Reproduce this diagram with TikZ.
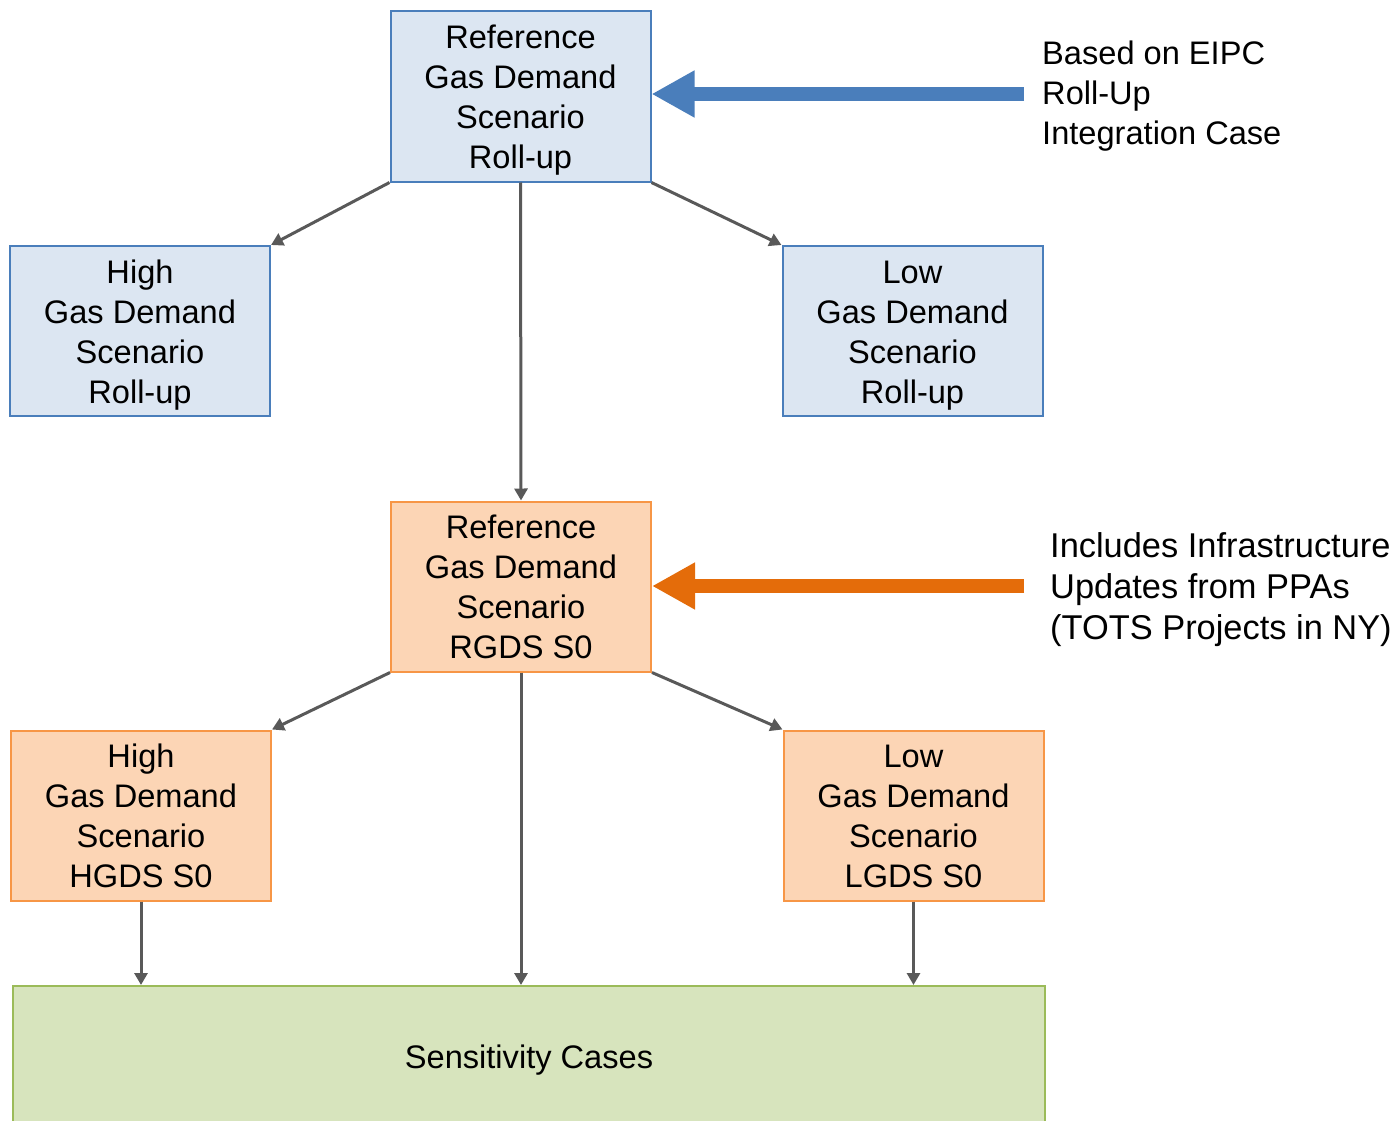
\documentclass[tikz,border=0pt]{standalone}
\usepackage{fontspec}
\setmainfont{Liberation Sans}
\usetikzlibrary{arrows.meta}

\definecolor{blueFill}{HTML}{DCE6F2}
\definecolor{blueLine}{HTML}{4A7EBB}
\definecolor{orangeFill}{HTML}{FCD5B5}
\definecolor{orangeLine}{HTML}{F79646}
\definecolor{greenFill}{HTML}{D7E4BD}
\definecolor{greenLine}{HTML}{9BBB59}
\definecolor{blueArrow}{HTML}{4A7EBB}
\definecolor{orangeArrow}{HTML}{E46C0A}
\definecolor{linkGray}{HTML}{595959}

% centred stack of lines, drawn a little below the middle of its box
% (the box keeps its natural extent, so only the ink moves)
\newcommand{\boxtext}[1]{\raisebox{-4pt}[\height][\depth]{\begin{tabular}{@{}c@{}}#1\end{tabular}}}

\tikzset{
  box/.style={rectangle, line width=2pt, inner sep=0pt,
    minimum width=260pt, minimum height=170pt,
    font=\fontsize{32.6}{40}\selectfont},
  bluebox/.style={box, draw=blueLine, fill=blueFill},
  orangebox/.style={box, draw=orangeLine, fill=orangeFill},
  greenbox/.style={box, draw=greenLine, fill=greenFill},
  link/.style={draw=linkGray, line width=3pt,
    -{Triangle[length=12pt,width=13pt]}},
  bigarrow/.style={line width=14pt,
    -{Triangle[length=43pt,width=44pt]}},
  note/.style={anchor=west, align=left, inner sep=0pt,
    font=\fontsize{32.6}{40}\selectfont},
  bignote/.style={note, font=\fontsize{34.4}{41}\selectfont}
}

\begin{document}
\begin{tikzpicture}[x=1pt,y=-1pt]
  \useasboundingbox (0,0) rectangle (1397,1121);
  \clip (0,0) rectangle (1397,1121);

  % Roll-up tier
  \node[bluebox] (refRoll) at (520.5,96.5) {\boxtext{Reference\\Gas Demand\\Scenario\\Roll-up}};
  \node[bluebox] (highRoll) at (140,331) {\boxtext{High\\Gas Demand\\Scenario\\Roll-up}};
  \node[bluebox] (lowRoll) at (912.5,331) {\boxtext{Low\\Gas Demand\\Scenario\\Roll-up}};

  % S0 tier
  \node[orangebox] (refS0) at (521,586.5) {\boxtext{Reference\\Gas Demand\\Scenario\\RGDS S0}};
  \node[orangebox] (highS0) at (141,815.5) {\boxtext{High\\Gas Demand\\Scenario\\HGDS S0}};
  \node[orangebox] (lowS0) at (913.5,815.5) {\boxtext{Low\\Gas Demand\\Scenario\\LGDS S0}};

  % Sensitivity cases (runs past the lower edge)
  \node[greenbox, minimum width=1032pt, minimum height=140pt] (sens) at (529,1056) {\boxtext{Sensitivity Cases}};

  % Connectors
  \draw[link] (refRoll.south west) -- (highRoll.north east);
  \draw[link] (refRoll.south) -- (refS0.north);
  \draw[link] (refRoll.south east) -- (lowRoll.north west);
  \draw[link] (refS0.south west) -- (highS0.north east);
  \draw[link] (refS0.south) -- (refS0.south |- sens.north);
  \draw[link] (refS0.south east) -- (lowS0.north west);
  \draw[link] (highS0.south) -- (highS0.south |- sens.north);
  \draw[link] (lowS0.south) -- (lowS0.south |- sens.north);

  % Annotations with block arrows
  \coordinate (blueTail) at (1024,94);
  \coordinate (orangeTail) at (1024,586);
  \draw[bigarrow, blueArrow] (blueTail) -- (refRoll.east |- blueTail);
  \draw[bigarrow, orangeArrow] (orangeTail) -- (refS0.east |- orangeTail);

  \node[note] (eipc) at (1042,96) {Based on EIPC\\Roll-Up\\Integration Case};
  \node[bignote] (ppa) at (1050,590) {Includes Infrastructure\\Updates from PPAs\\(TOTS Projects in NY)};
\end{tikzpicture}
\end{document}
